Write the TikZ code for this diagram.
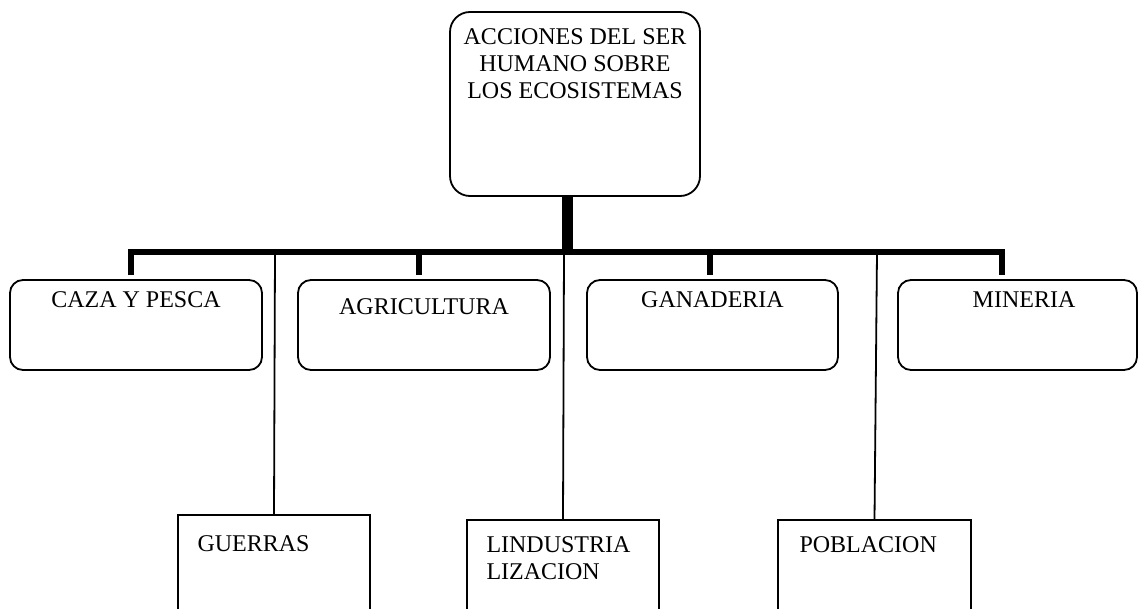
\documentclass[tikz,border=0pt]{standalone}
\usepackage{fontspec}
\setmainfont{Liberation Serif}
\begin{document}
\begin{tikzpicture}[x=0.5pt,y=-0.5pt,
  rbox/.style={draw, line width=0.9pt, rounded corners=6.5pt, inner sep=0pt, minimum height=45pt},
  sbox/.style={draw, line width=0.9pt, inner sep=0pt, minimum width=96pt},
  txt/.style={inner sep=0pt, font=\fontsize{12}{13.5}\selectfont},
  barline/.style={line width=2.75pt, line join=miter},
  stemline/.style={line width=5.5pt},
  thinline/.style={line width=0.9pt}]
\useasboundingbox (0,0) rectangle (1139,609);
\clip (0,0) rectangle (1139,609);

% top box
\node[draw, line width=0.9pt, rounded corners=10pt, inner sep=0pt,
      minimum width=125pt, minimum height=92pt] (top) at (575,104) {};
% base anchor of a multi-line node = baseline of its last line
\node[txt, align=center, anchor=base] (topT) at ([yshift=-43.5pt]top.north)
  {ACCIONES DEL SER\\HUMANO SOBRE\\LOS ECOSISTEMAS};

% rounded boxes
\node[rbox, minimum width=126pt] (caza) at (136,325) {};
\node[rbox, minimum width=126pt] (agri) at (424,325) {};
\node[rbox, minimum width=125.5pt] (gana) at (712.5,325) {};
\node[rbox, minimum width=119.5pt] (mine) at (1017.5,325) {};
\node[txt, anchor=base] (cazaT) at ([yshift=-14pt]caza.north) {CAZA Y PESCA};
\node[txt, anchor=base] (agriT) at ([yshift=-17.5pt]agri.north) {AGRICULTURA};
\node[txt, anchor=base] (ganaT) at ([yshift=-14pt]gana.north) {GANADERIA};
\node[txt, anchor=base] (mineT) at ([xshift=3.25pt,yshift=-14pt]mine.north) {MINERIA};

% square boxes (cut by the lower edge)
\node[sbox, minimum height=62.5pt] (guer) at (274,577.5) {};
\node[sbox, minimum height=60pt] (linds) at (563,580) {};
\node[sbox, minimum width=96.5pt, minimum height=60pt] (pobl) at (874.5,580) {};
\node[txt, anchor=base west] (guerT) at ([xshift=10pt,yshift=-18.5pt]guer.north west) {GUERRAS};
\node[txt, align=left, anchor=base west] (lindsT) at ([xshift=10pt,yshift=-30pt]linds.north west) {LINDUSTRIA\\LIZACION};
\node[txt, anchor=base west] (poblT) at ([xshift=11pt,yshift=-16.5pt]pobl.north west) {POBLACION};

% connectors
\coordinate (sj) at (567,252);
\coordinate (d1) at (131,275);
\coordinate (d2) at (419,275);
\coordinate (d3) at (710,275);
\coordinate (d4) at (1002,275);
\coordinate (t1) at (275,252);
\coordinate (t2) at (564,252);
\coordinate (t3) at (877,252);

\draw[stemline] (sj |- top.south) -- (sj);
\draw[barline] (d1) -- (d1 |- sj) -- (d4 |- sj) -- (d4);
\draw[barline] (d2 |- sj) -- (d2);
\draw[barline] (d3 |- sj) -- (d3);
\draw[thinline] (t1) -- (guer.north);
\draw[thinline] (t2) -- (linds.north);
\draw[thinline] (t3) -- (pobl.north);
\end{tikzpicture}
\end{document}
